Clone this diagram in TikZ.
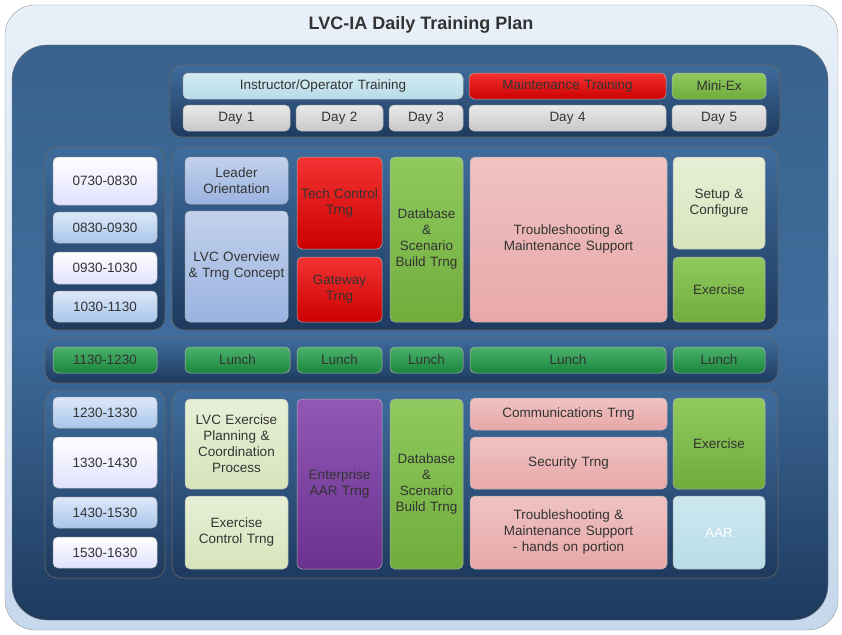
\documentclass[tikz,border=0pt]{standalone}
\usepackage{fontspec}
\setmainfont{Liberation Sans}
\definecolor{txt}{HTML}{333333}
\definecolor{cyanb}{HTML}{B7DDE8}
\definecolor{redb}{HTML}{F00000}
\definecolor{greenb}{HTML}{7CC043}
\definecolor{grayb}{HTML}{C8C8C8}
\definecolor{pinkb}{HTML}{E8A8A8}
\definecolor{lgreen}{HTML}{D7E4BC}
\definecolor{dgreen}{HTML}{1E9E47}
\definecolor{purpleb}{HTML}{7E3AA8}
\definecolor{blueb}{HTML}{9AB3E0}
\definecolor{ltblue}{HTML}{A9C6EC}
\definecolor{navy}{HTML}{1E3A5E}
\definecolor{navy2}{HTML}{3F6C9C}
\definecolor{outtop}{HTML}{E8F0F8}
\definecolor{outbot}{HTML}{C6D8EC}
\tikzset{
 bx/.style={draw=white!70!black, line width=0.5pt, rounded corners=5pt, inner sep=1pt, outer sep=0pt, align=center, text=txt, font=\fontsize{13.5}{16}\selectfont},
 cy/.style={bx, top color=cyanb!60!white, bottom color=cyanb},
 rd/.style={bx, top color=redb!80!white, bottom color=redb!85!black},
 gr/.style={bx, top color=greenb!85!white, bottom color=greenb!90!black},
 gy/.style={bx, top color=grayb!40!white, bottom color=grayb},
 pk/.style={bx, top color=pinkb!70!white, bottom color=pinkb},
 lg/.style={bx, top color=lgreen!60!white, bottom color=lgreen},
 dg/.style={bx, top color=dgreen!80!white, bottom color=dgreen!85!black},
 pu/.style={bx, top color=purpleb!85!white, bottom color=purpleb!85!black},
 bl/.style={bx, top color=blueb!60!white, bottom color=blueb},
 lb/.style={bx, top color=ltblue!40!white, bottom color=ltblue},
 wh/.style={bx, top color=white, bottom color=white!88!blue},
 aar/.style={bx, top color=cyanb!70!white, bottom color=cyanb, text=white},
 panel/.style={rounded corners=12pt, draw=black!60, top color=navy2, bottom color=navy, line width=0.6pt}
}
\newcommand\bx[7]{\node[#6, minimum width={(#4-#2)*1pt}, minimum height={(#5-#3)*1pt}, text width={(#4-#2-6)*1pt}] (#1) at ({(#2+#4)/2},{(#3+#5)/2}) {#7};}
\begin{document}
\begin{tikzpicture}[x=1pt,y=-1pt]
\useasboundingbox (0,0) rectangle (842,634);
\fill[white] (0,0) rectangle (842,634);
\draw[rounded corners=30pt, draw=black!40, top color=outtop, bottom color=outbot] (5,5) rectangle (838,630);
\node[font=\bfseries\fontsize{18}{20}\selectfont, text=txt] (title) at (421,25) {LVC-IA Daily Training Plan};
\draw[rounded corners=35pt, draw=black!50, top color=navy2!90!black, bottom color=navy, middle color=navy2] (12,45) rectangle (828,620);
\draw[panel] (170,65) rectangle (780,137);
\draw[panel] (45,147) rectangle (165,330);
\draw[panel] (172,147) rectangle (778,330);
\draw[panel] (45,338) rectangle (778,383);
\draw[panel] (45,390) rectangle (165,578);
\draw[panel] (172,390) rectangle (778,578);
% header
\bx{hio}{183}{73}{463}{99}{cy}{Instructor/Operator Training}
\bx{hmt}{469}{73}{666}{99}{rd}{Maintenance Training}
\bx{hme}{672}{73}{766}{99}{gr}{Mini-Ex}
\bx{d1}{183}{105}{290}{131}{gy}{Day 1}
\bx{d2}{296}{105}{383}{131}{gy}{Day 2}
\bx{d3}{389}{105}{463}{131}{gy}{Day 3}
\bx{d4}{469}{105}{666}{131}{gy}{Day 4}
\bx{d5}{672}{105}{766}{131}{gy}{Day 5}
% morning times
\bx{t1}{53}{157}{157}{205}{wh}{0730-0830}
\bx{t2}{53}{212}{157}{243}{lb}{0830-0930}
\bx{t3}{53}{252}{157}{284}{wh}{0930-1030}
\bx{t4}{53}{291}{157}{322}{lb}{1030-1130}
% morning
\bx{lo}{185}{157}{288}{204}{bl}{Leader\\Orientation}
\bx{lvc}{185}{211}{288}{322}{bl}{LVC Overview\\\& Trng Concept}
\bx{tc}{297}{157}{382}{249}{rd}{Tech Control\\Trng}
\bx{gw}{297}{257}{382}{322}{rd}{Gateway\\Trng}
\bx{db1}{390}{157}{463}{322}{gr}{Database\\\&\\Scenario\\Build Trng}
\bx{ts}{470}{157}{667}{322}{pk}{Troubleshooting \&\\Maintenance Support}
\bx{sc}{673}{157}{765}{249}{lg}{Setup \&\\Configure}
\bx{ex1}{673}{257}{765}{322}{gr}{Exercise}
% lunch
\bx{t5}{53}{347}{157}{373}{dg}{1130-1230}
\bx{l1}{185}{347}{290}{373}{dg}{Lunch}
\bx{l2}{297}{347}{382}{373}{dg}{Lunch}
\bx{l3}{390}{347}{463}{373}{dg}{Lunch}
\bx{l4}{470}{347}{666}{373}{dg}{Lunch}
\bx{l5}{673}{347}{765}{373}{dg}{Lunch}
% afternoon times
\bx{t6}{53}{397}{157}{428}{lb}{1230-1330}
\bx{t7}{53}{437}{157}{488}{wh}{1330-1430}
\bx{t8}{53}{497}{157}{528}{lb}{1430-1530}
\bx{t9}{53}{537}{157}{568}{wh}{1530-1630}
% afternoon
\bx{lep}{185}{399}{288}{489}{lg}{LVC Exercise\\Planning \&\\Coordination\\Process}
\bx{ect}{185}{496}{288}{569}{lg}{Exercise\\Control Trng}
\bx{aart}{297}{399}{382}{569}{pu}{Enterprise\\AAR Trng}
\bx{db2}{390}{399}{463}{569}{gr}{Database\\\&\\Scenario\\Build Trng}
\bx{com}{470}{398}{667}{430}{pk}{Communications Trng}
\bx{sec}{470}{437}{667}{489}{pk}{Security Trng}
\bx{tsh}{470}{496}{667}{569}{pk}{Troubleshooting \&\\Maintenance Support\\- hands on portion}
\bx{ex2}{673}{398}{765}{489}{gr}{Exercise}
\bx{aar}{673}{496}{765}{569}{aar}{AAR}
\end{tikzpicture}
\end{document}
